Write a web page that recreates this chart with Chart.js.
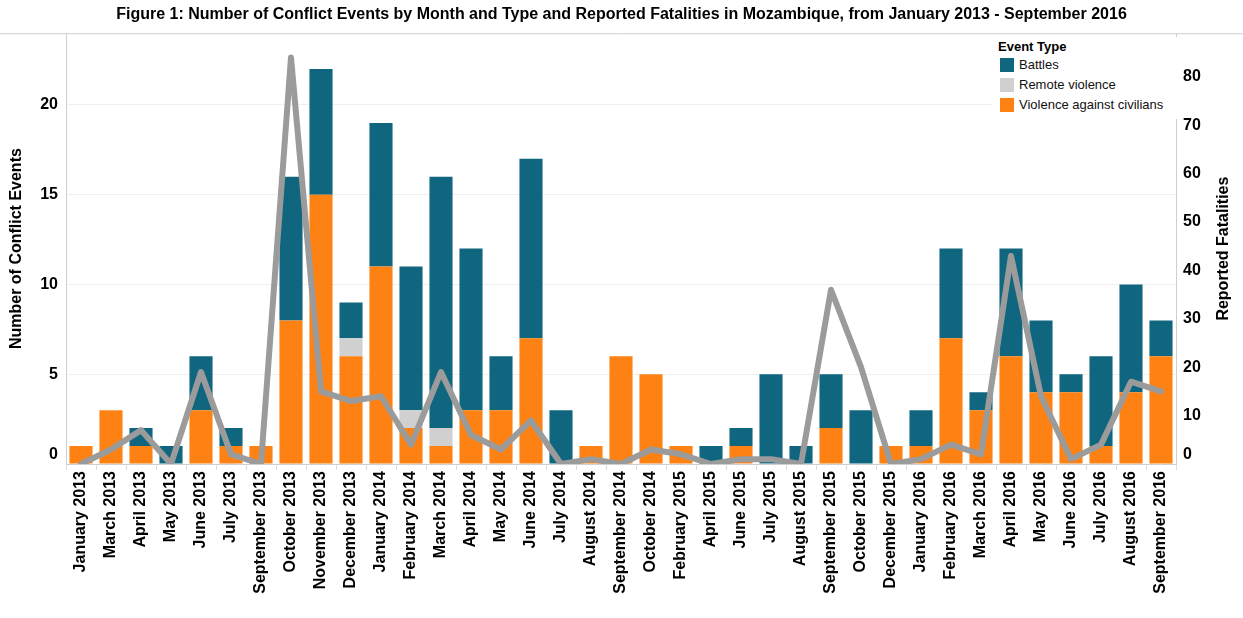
<!DOCTYPE html>
<html>
<head>
<meta charset="utf-8">
<script src="https://cdn.jsdelivr.net/npm/chart.js@4/dist/chart.umd.min.js"></script>
<style>
  body { margin: 0; background: #fff; font-family: "Liberation Sans", Arial, sans-serif; }
  #wrap { position: relative; width: 1243px; height: 618px; }
  #legend { position: absolute; left: 993px; top: 37px; width: 178px; background: #fff; padding: 1px 0 4px 7px; font-size: 13px; color: #111; }
  #legend .hd { font-weight: bold; font-size: 13px; height: 17px; line-height: 17px; color: #000; margin-left: -2px; }
  #legend .row { height: 20px; line-height: 20px; display: flex; align-items: center; }
  #legend .sw { width: 14px; height: 14px; margin-right: 5px; }
</style>
</head>
<body>
<div id="wrap">
  <canvas id="chartConflict" width="1243" height="618"></canvas>
  <div id="legend"></div>
</div>
<script>
let months = [
  "January 2013", "March 2013", "April 2013", "May 2013", "June 2013",
  "July 2013", "September 2013", "October 2013", "November 2013", "December 2013",
  "January 2014", "February 2014", "March 2014", "April 2014", "May 2014",
  "June 2014", "July 2014", "August 2014", "September 2014", "October 2014",
  "February 2015", "April 2015", "June 2015", "July 2015", "August 2015",
  "September 2015", "October 2015", "December 2015", "January 2016", "February 2016",
  "March 2016", "April 2016", "May 2016", "June 2016", "July 2016",
  "August 2016", "September 2016",
];

let civilians = [1, 3, 1, 0, 3, 1, 1, 8, 15, 6, 11, 2, 1, 3, 3, 7, 0, 1, 6, 5,
  1, 0, 1, 0, 0, 2, 0, 1, 1, 7, 3, 6, 4, 4, 1, 4, 6];
let remote = [0, 0, 0, 0, 0, 0, 0, 0, 0, 1, 0, 1, 1, 0, 0, 0, 0, 0, 0, 0,
  0, 0, 0, 0, 0, 0, 0, 0, 0, 0, 0, 0, 0, 0, 0, 0, 0];
let battles = [0, 0, 1, 1, 3, 1, 0, 8, 7, 2, 8, 8, 14, 9, 3, 10, 3, 0, 0, 0,
  0, 1, 1, 5, 1, 3, 3, 0, 2, 5, 1, 6, 4, 1, 5, 6, 2];
let fatalities = [0, 3, 7, 0, 19, 2, 0, 84, 15, 13, 14, 4, 19, 6, 3, 9, 0, 1, 0, 3,
  2, 0, 1, 1, 0, 36, 20, 0, 1, 4, 2, 43, 14, 1, 4, 17, 15];

let eventTypes = ["Battles", "Remote violence", "Violence against civilians"];
let typeColors = ["#10667e", "#d0d0d0", "#fd8213"];

let fontFamily = "'Liberation Sans', Arial, sans-serif";
let tickFont = { family: fontFamily, size: 16, weight: "bold" };

// legend (html box in the top right corner)
let legendBox = document.getElementById("legend");
let legendHtml = '<div class="hd">Event Type</div>';
for (let i = 0; i < eventTypes.length; i++) {
  legendHtml +=
    '<div class="row"><div class="sw" style="background:' + typeColors[i] +
    '"></div>' + eventTypes[i] + "</div>";
}
legendBox.innerHTML = legendHtml;

// hide the zero ticks so they can be drawn a bit higher, like the original
let zeroHidden = (c) => (c.tick && c.tick.value === 0 ? "rgba(0,0,0,0)" : "#000");

// frame line, raised zero labels and right axis title
let framePlugin = {
  id: "frame",
  afterDraw(chart) {
    let ctx = chart.ctx;
    let area = chart.chartArea;
    ctx.save();
    ctx.strokeStyle = "#cfcfcf";
    ctx.lineWidth = 1;
    ctx.beginPath();
    ctx.moveTo(0, area.top + 0.5);
    ctx.lineTo(chart.width, area.top + 0.5);
    ctx.stroke();

    ctx.fillStyle = "#000";
    ctx.font = "bold 16px " + fontFamily;
    ctx.textBaseline = "middle";
    let zeroY = chart.scales.y.getPixelForValue(0) - 9;
    ctx.textAlign = "right";
    ctx.fillText("0", area.left - 8, zeroY);
    ctx.textAlign = "left";
    ctx.fillText("0", area.right + 7, zeroY);

    ctx.textAlign = "center";
    ctx.translate(1224, (area.top + area.bottom) / 2);
    ctx.rotate(-Math.PI / 2);
    ctx.fillText("Reported Fatalities", 0, 0);
    ctx.restore();
  },
};

let ctxConflict = document.getElementById("chartConflict").getContext("2d");

let chartConflict = new Chart(ctxConflict, {
  type: "bar",
  data: {
    labels: months,
    datasets: [
      {
        type: "line",
        label: "Reported Fatalities",
        data: fatalities,
        yAxisID: "y1",
        borderColor: "#9b9b9b",
        borderWidth: 6,
        borderJoinStyle: "round",
        borderCapStyle: "round",
        pointRadius: 0,
        tension: 0,
        order: 0,
      },
      {
        label: eventTypes[2],
        data: civilians,
        backgroundColor: typeColors[2],
        yAxisID: "y",
        order: 1,
      },
      {
        label: eventTypes[1],
        data: remote,
        backgroundColor: typeColors[1],
        yAxisID: "y",
        order: 1,
      },
      {
        label: eventTypes[0],
        data: battles,
        backgroundColor: typeColors[0],
        yAxisID: "y",
        order: 1,
      },
    ],
  },
  options: {
    responsive: false,
    animation: false,
    datasets: {
      bar: {
        barPercentage: 0.77,
        categoryPercentage: 1,
      },
    },
    layout: { padding: 0 },
    plugins: {
      legend: { display: false },
      tooltip: { enabled: false },
      title: {
        display: true,
        text: "Figure 1: Number of Conflict Events by Month and Type and Reported Fatalities in Mozambique, from January 2013 - September 2016",
        color: "#000",
        font: { family: fontFamily, size: 16, weight: "bold" },
        padding: { top: 5, bottom: 9 },
      },
    },
    scales: {
      x: {
        stacked: true,
        grid: {
          display: true,
          offset: true,
          drawOnChartArea: false,
          tickLength: 6,
          color: "#dddddd",
        },
        border: { color: "#cfcfcf" },
        ticks: {
          autoSkip: false,
          minRotation: 90,
          maxRotation: 90,
          padding: 1,
          color: "#000",
          font: tickFont,
        },
        afterFit: (scale) => {
          scale.height = 154;
        },
      },
      y: {
        stacked: true,
        position: "left",
        min: 0,
        max: 24,
        grid: { color: "#efefef", drawTicks: false },
        border: { color: "#cfcfcf" },
        ticks: {
          stepSize: 5,
          includeBounds: false,
          padding: 8,
          color: zeroHidden,
          font: tickFont,
        },
        title: {
          display: true,
          text: "Number of Conflict Events",
          color: "#000",
          font: { family: fontFamily, size: 16, weight: "bold" },
          padding: { top: 7, bottom: 0 },
        },
        afterFit: (scale) => {
          scale.width = 66;
        },
      },
      y1: {
        position: "right",
        min: 0,
        max: 89,
        grid: { drawOnChartArea: false, drawTicks: false },
        border: { color: "#cfcfcf" },
        ticks: {
          stepSize: 10,
          includeBounds: false,
          padding: 7,
          color: zeroHidden,
          font: tickFont,
        },
        afterFit: (scale) => {
          scale.width = 67;
        },
      },
    },
  },
  plugins: [framePlugin],
});
</script>
</body>
</html>
